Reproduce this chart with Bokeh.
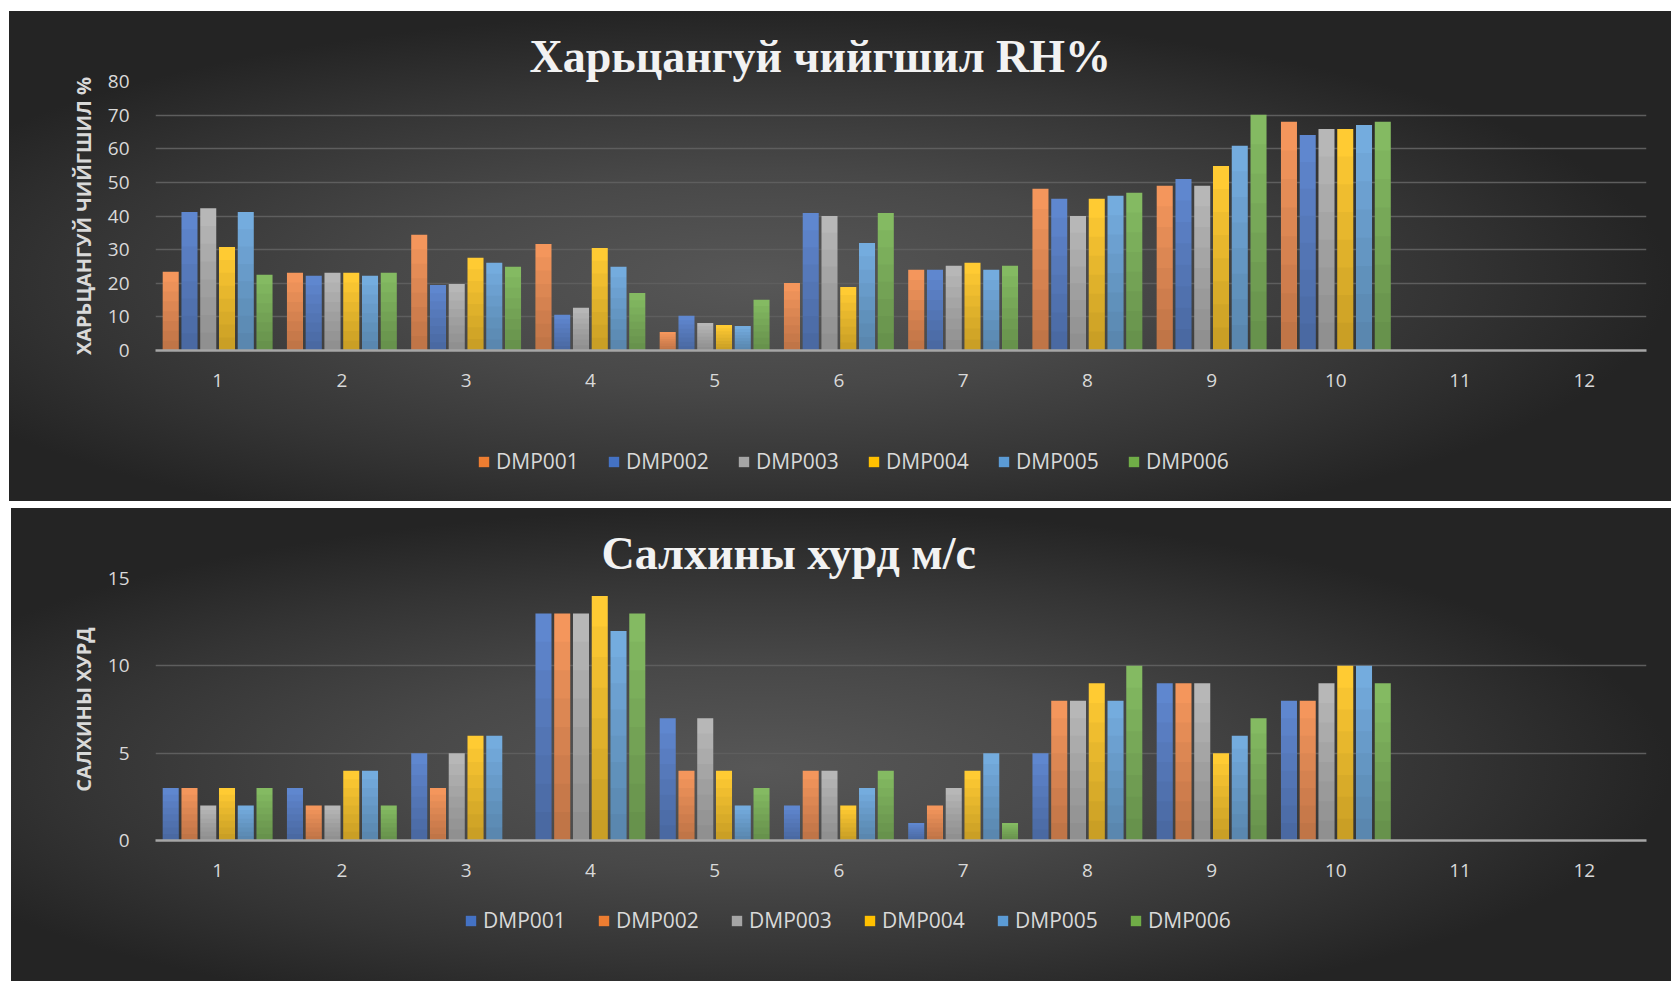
from bokeh.plotting import figure
from bokeh.models import (ColumnDataSource, Legend, LegendItem, FixedTicker,
                          Range1d)
from bokeh.layouts import column
from bokeh.transform import dodge
from bokeh.embed import file_html
from bokeh.resources import INLINE

# ---------------- data ----------------
categories = [1, 2, 3, 4, 5, 6, 7, 8, 9, 10]
tick_labels = [1, 2, 3, 4, 5, 6, 7, 8, 9, 10, 11, 12]
series_names = ["DMP001", "DMP002", "DMP003", "DMP004", "DMP005", "DMP006"]

# Relative humidity RH %
rh_dmp001 = [23.4, 23.1, 34.4, 31.7, 5.5, 20.1, 24.0, 48.1, 49.0, 68.0]
rh_dmp002 = [41.2, 22.2, 19.5, 10.6, 10.3, 40.9, 24.0, 45.1, 51.0, 64.1]
rh_dmp003 = [42.3, 23.1, 19.8, 12.7, 8.2, 40.0, 25.2, 40.0, 49.0, 65.9]
rh_dmp004 = [30.8, 23.1, 27.6, 30.5, 7.6, 18.9, 26.1, 45.1, 54.9, 65.9]
rh_dmp005 = [41.2, 22.2, 26.1, 24.9, 7.3, 32.0, 24.0, 46.0, 60.9, 67.1]
rh_dmp006 = [22.5, 23.1, 24.9, 17.1, 15.1, 40.9, 25.2, 46.9, 70.1, 68.0]

# Wind speed m/s
ws_dmp001 = [3, 3, 5, 13, 7, 2, 1, 5, 9, 8]
ws_dmp002 = [3, 2, 3, 13, 4, 4, 2, 8, 9, 8]
ws_dmp003 = [2, 2, 5, 13, 7, 4, 3, 8, 9, 9]
ws_dmp004 = [3, 4, 6, 14, 4, 2, 4, 9, 5, 10]
ws_dmp005 = [2, 4, 6, 12, 2, 3, 5, 8, 6, 10]
ws_dmp006 = [3, 2, 0, 13, 3, 4, 1, 10, 7, 9]

rh_ticks = [0, 10, 20, 30, 40, 50, 60, 70, 80]
ws_ticks = [0, 5, 10, 15]

ORANGE, BLUE, GRAY, GOLD, LBLUE, GREEN = ("#ED7D31", "#4472C4", "#A5A5A5",
                                          "#FFC000", "#5B9BD5", "#70AD47")
# lighter tops for the gradient look of the bars
LIGHT = {"#ED7D31": "#F4965C", "#4472C4": "#5F87CF", "#A5A5A5": "#B7B7B7",
         "#FFC000": "#FFCB33", "#5B9BD5": "#74ACDE", "#70AD47": "#84BA62"}

TXT = "#d9d9d9"
TICK_FONT = "Open Sans"
BG = ("radial-gradient(ellipse farthest-side at 45% 55%, "
      "#575757 0%, #484848 40%, #343434 75%, #242424 100%)")
N_SHADE = 8


def transparent(p):
    p.background_fill_alpha = 0
    p.border_fill_alpha = 0
    p.outline_line_color = None


def make_chart(title, ytitle, values, colors, y_end, yticks, width,
               plot_h, borders, title_offset, leg_h, leg_pos, leg_label_w):
    left, right, top, bottom = borders
    p = figure(width=width, height=plot_h, x_range=Range1d(0.5, 12.5),
               y_range=Range1d(0, y_end), output_backend="svg",
               toolbar_location=None, min_border_left=left,
               min_border_right=right, min_border_top=top,
               min_border_bottom=bottom)
    transparent(p)

    # chart title
    p.title.text = title
    p.title.align = "left"
    p.title.offset = title_offset
    p.title.standoff = 0
    p.title.text_font = "Liberation Serif"
    p.title.text_font_style = "bold"
    p.title.text_font_size = "46px"
    p.title.text_color = "#f2f2f2"

    data = {"x": categories}
    for name, vals in zip(series_names, values):
        data[name] = vals
        for k in range(1, N_SHADE):
            data[f"{name}_s{k}"] = [v * k / N_SHADE for v in vals]
    src = ColumnDataSource(data)

    pitch, bw = 0.151, 0.129
    for i, (name, col) in enumerate(zip(series_names, colors)):
        off = (i - 2.5) * pitch
        p.vbar(x=dodge("x", off), top=name, bottom=0, width=bw, source=src,
               fill_color=LIGHT[col], line_color=None)
        # darker towards the base (gradient shading)
        for k in range(1, N_SHADE):
            p.vbar(x=dodge("x", off), top=f"{name}_s{k}", bottom=0, width=bw,
                   source=src, fill_color="black", fill_alpha=0.03,
                   line_color=None)

    # axes
    p.xaxis.ticker = FixedTicker(ticks=tick_labels)
    p.xaxis.axis_line_color = "#a6a6a6"
    p.xaxis.axis_line_width = 2.5
    p.xaxis.major_tick_line_color = None
    p.xaxis.minor_tick_line_color = None
    p.xaxis.major_label_text_color = TXT
    p.xaxis.major_label_text_font = TICK_FONT
    p.xaxis.major_label_text_font_size = "19px"
    p.xaxis.major_label_standoff = 17

    p.yaxis.ticker = FixedTicker(ticks=yticks)
    p.yaxis.axis_line_color = None
    p.yaxis.major_tick_line_color = None
    p.yaxis.minor_tick_line_color = None
    p.yaxis.major_label_text_color = TXT
    p.yaxis.major_label_text_font = TICK_FONT
    p.yaxis.major_label_text_font_size = "19px"
    p.yaxis.major_label_standoff = 20
    p.yaxis.axis_label = ytitle
    p.yaxis.axis_label_standoff = 8
    p.yaxis.axis_label_text_font = "Open Sans"
    p.yaxis.axis_label_text_font_style = "bold"
    p.yaxis.axis_label_text_font_size = "20px"
    p.yaxis.axis_label_text_color = TXT

    p.xgrid.grid_line_color = None
    p.ygrid.grid_line_color = "#5e5e5e"
    p.ygrid.grid_line_width = 1.5

    # legend strip (separate transparent figure below the chart;
    # its frame is aligned with the chart frame by the column layout)
    lg = figure(width=width, height=leg_h, x_range=Range1d(0, 1),
                y_range=Range1d(0, 1), output_backend="svg",
                toolbar_location=None, x_axis_location=None,
                y_axis_location=None, min_border_left=0, min_border_right=0,
                min_border_top=0, min_border_bottom=0)
    transparent(lg)
    lg.grid.visible = False
    lsrc = ColumnDataSource({"x": [float("nan")], "top": [float("nan")]})
    rends = [lg.vbar(x="x", top="top", width=0.1, source=lsrc, fill_color=c,
                     line_color=None) for c in colors]
    legend = Legend(items=[LegendItem(label=n, renderers=[r])
                           for n, r in zip(series_names, rends)],
                    orientation="horizontal", location=leg_pos,
                    glyph_width=13, glyph_height=13, label_standoff=6,
                    label_width=leg_label_w, label_height=20, spacing=11,
                    padding=0, margin=0, border_line_color=None,
                    background_fill_alpha=0,
                    label_text_color=TXT, label_text_font=TICK_FONT,
                    label_text_font_size="21px")
    lg.add_layout(legend, "center")

    chart = column(p, lg, spacing=0, styles={"background": BG})
    return chart


top_chart = make_chart("Харьцангуй чийгшил RH%", "ХАРЬЦАНГУЙ ЧИЙГШИЛ %",
                       [rh_dmp001, rh_dmp002, rh_dmp003, rh_dmp004, rh_dmp005,
                        rh_dmp006],
                       [ORANGE, BLUE, GRAY, GOLD, LBLUE, GREEN], 80, rh_ticks,
                       1662, 420, (146, 25, 70, 81), 374,
                       70, (322, 26), 100)
top_chart.margin = (11, 0, 0, 9)

bottom_chart = make_chart("Салхины хурд м/с", "САЛХИНЫ ХУРД",
                          [ws_dmp001, ws_dmp002, ws_dmp003, ws_dmp004,
                           ws_dmp005, ws_dmp006],
                          [BLUE, ORANGE, GRAY, GOLD, LBLUE, GREEN], 15, ws_ticks,
                          1660, 380, (144, 25, 70, 48), 446,
                          93, (309, 47), 103)
bottom_chart.margin = (7, 0, 0, 11)

layout = column(top_chart, bottom_chart, spacing=0)
open("out.html", "w").write(file_html(layout, INLINE))
